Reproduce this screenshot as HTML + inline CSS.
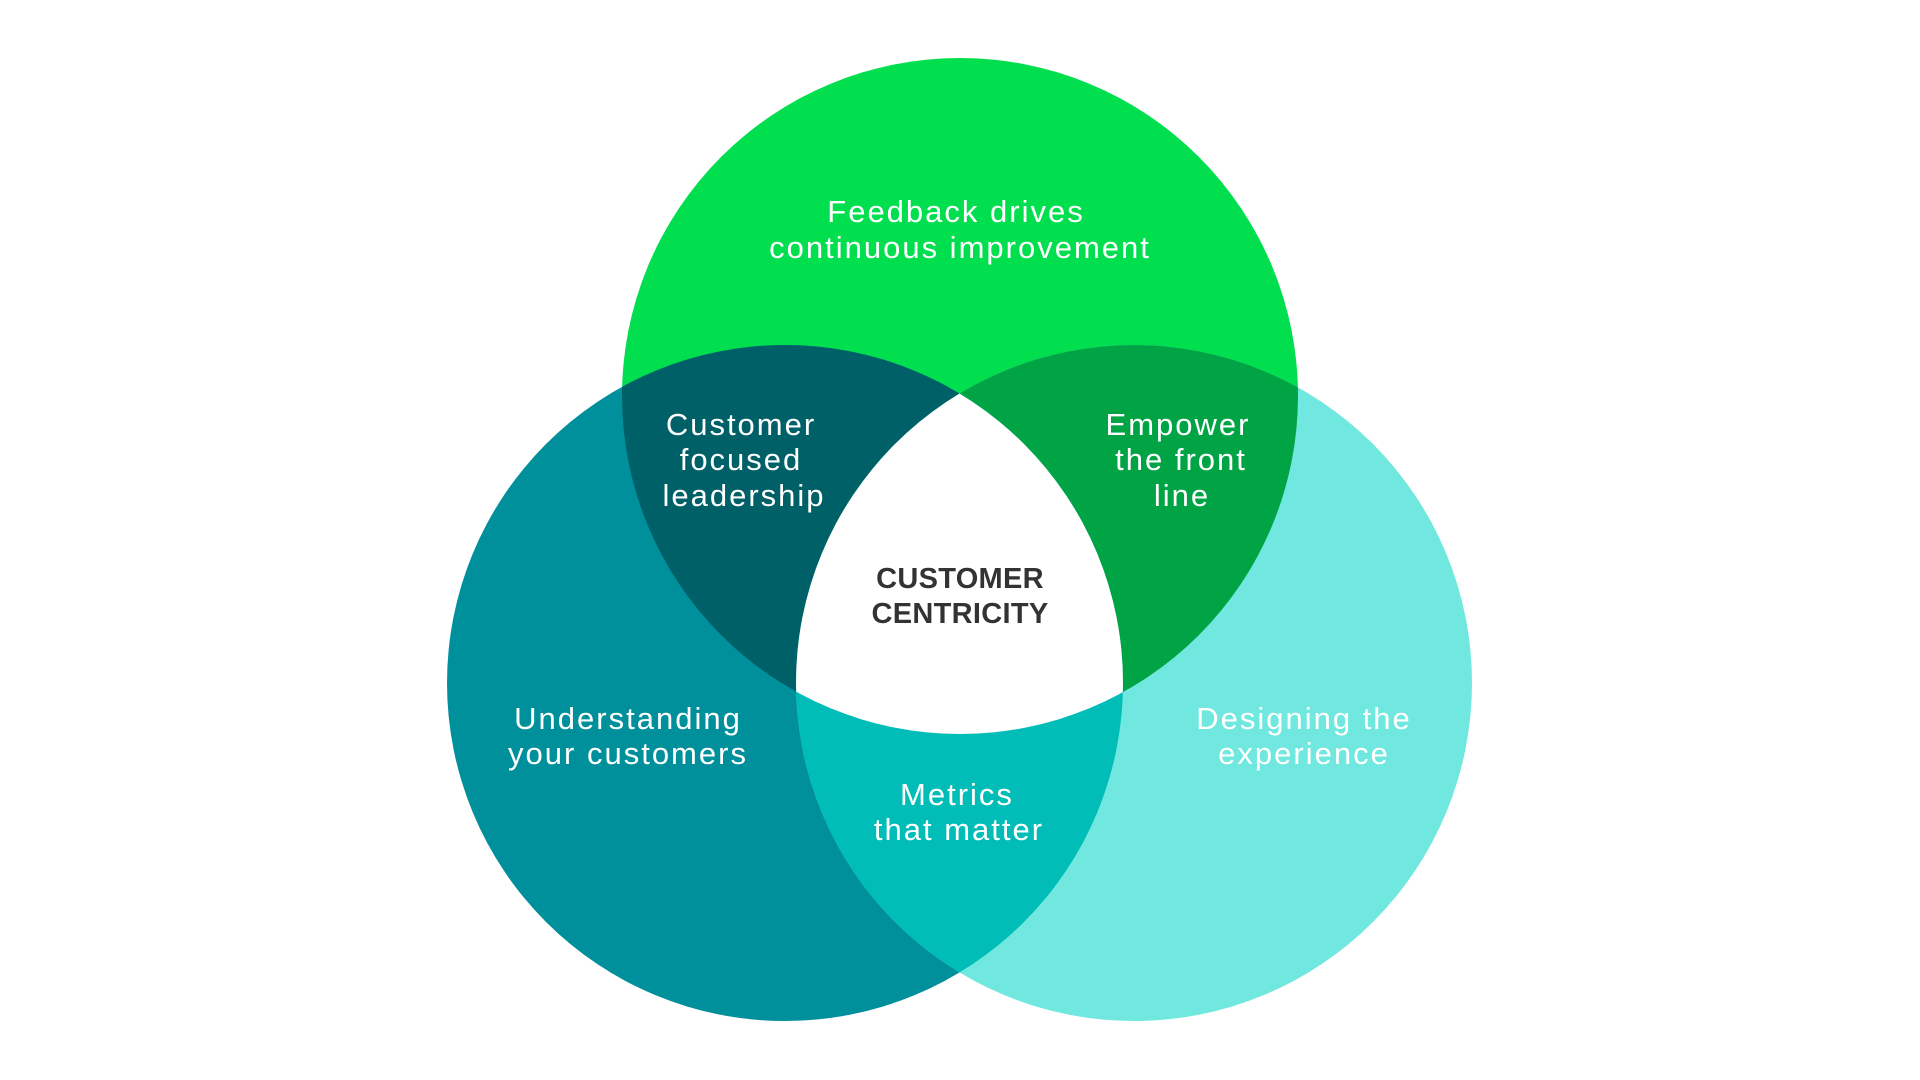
<!DOCTYPE html>
<html><head><meta charset="utf-8"><style>
html,body{margin:0;padding:0;background:#fff;width:1920px;height:1080px;overflow:hidden}
text{font-family:"Liberation Sans",sans-serif;font-size:31px;fill:#fff;text-anchor:middle;letter-spacing:2px}
</style></head><body>
<svg width="1920" height="1080" viewBox="0 0 1920 1080">
<defs>
<clipPath id="cT"><circle cx="960" cy="396" r="338"/></clipPath>
<clipPath id="cL"><circle cx="785" cy="683" r="338"/></clipPath>
<clipPath id="cR"><circle cx="1134" cy="683" r="338"/></clipPath>
</defs>
<circle cx="960" cy="396" r="338" fill="#01df4f"/>
<circle cx="785" cy="683" r="338" fill="#00909c"/>
<circle cx="1134" cy="683" r="338" fill="#70e8e0"/>
<g clip-path="url(#cT)"><circle cx="785" cy="683" r="338" fill="#006067"/></g>
<g clip-path="url(#cT)"><circle cx="1134" cy="683" r="338" fill="#00a444"/></g>
<g clip-path="url(#cL)"><circle cx="1134" cy="683" r="338" fill="#00bdb8"/></g>
<g clip-path="url(#cT)"><g clip-path="url(#cL)"><circle cx="1134" cy="683" r="338" fill="#fff"/></g></g>
<text x="956" y="222">Feedback drives</text>
<text x="960" y="258">continuous improvement</text>
<text x="741" y="435">Customer</text>
<text x="741" y="470">focused</text>
<text x="744" y="506">leadership</text>
<text x="1178" y="435">Empower</text>
<text x="1181" y="470">the front</text>
<text x="1182" y="506">line</text>
<text x="960" y="588" style="font-weight:bold;font-size:29px;fill:#333;letter-spacing:0.3px">CUSTOMER</text>
<text x="960" y="623" style="font-weight:bold;font-size:29px;fill:#333;letter-spacing:0.3px">CENTRICITY</text>
<text x="628" y="729">Understanding</text>
<text x="628" y="764">your customers</text>
<text x="1304" y="729">Designing the</text>
<text x="1304" y="764">experience</text>
<text x="957" y="805">Metrics</text>
<text x="959" y="840">that matter</text>
</svg>
</body></html>
